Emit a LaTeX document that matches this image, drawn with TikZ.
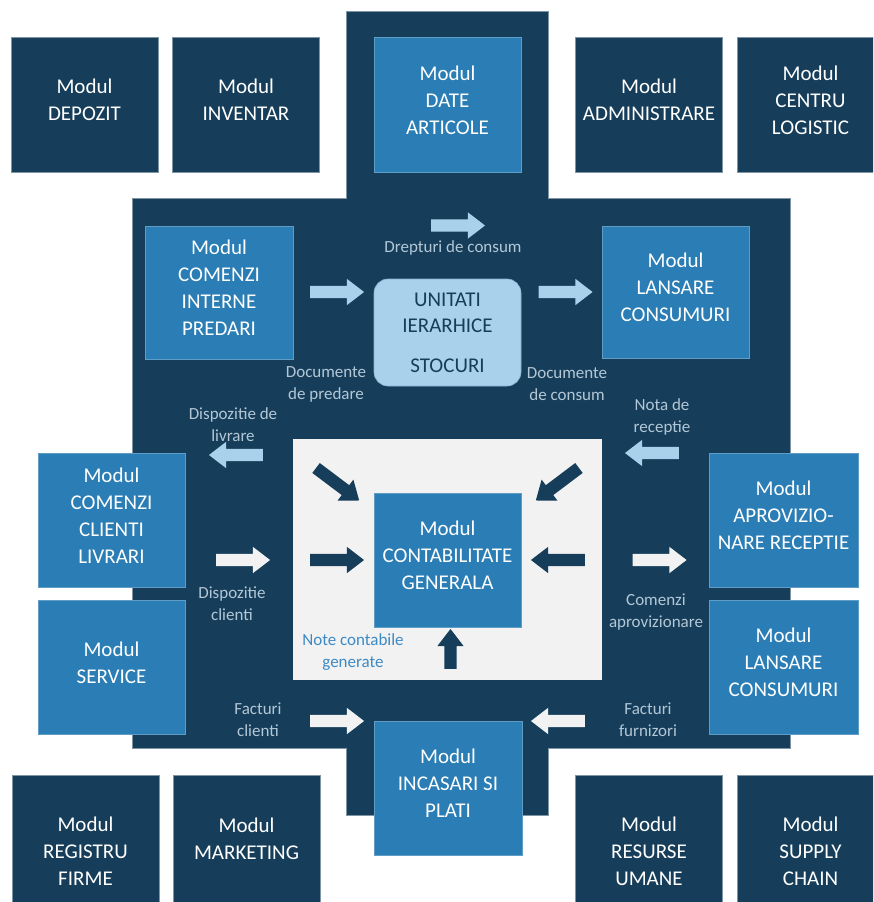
\documentclass[tikz,border=0pt]{standalone}
\usepackage{fontspec}
\setmainfont{Carlito}
\usepackage{tikz}
\usetikzlibrary{shapes.arrows}

\definecolor{navy}{HTML}{163E5A}
\definecolor{midblue}{HTML}{2A7DB5}
\definecolor{paleblue}{HTML}{A9D1EB}
\definecolor{lightgray}{HTML}{F2F2F2}
\definecolor{labelgray}{HTML}{B3C7D6}
\definecolor{noteblue}{HTML}{3D8AC4}

\tikzset{
	modul/.style={rectangle, fill=midblue, draw=midblue!75!white, line width=0.6pt, text=white, align=center, inner sep=0pt, minimum width=147pt, minimum height=134pt, text depth=9pt, font=\fontsize{21}{27}\selectfont},
	extmodul/.style={modul, fill=navy, draw=navy!55!white},
	lbl/.style={text=labelgray, align=center, inner sep=0pt, font=\fontsize{17}{22}\selectfont},
	blockarrow/.style={single arrow, draw=none, inner sep=6pt, minimum height=54pt, single arrow head extend=7pt, single arrow tip angle=75},
}

\begin{document}
\begin{tikzpicture}[x=1pt,y=-1pt]
	\useasboundingbox (0,0) rectangle (873,902);
	\clip (0,0) rectangle (873,902);
	% Core Cross %
	\filldraw [fill=navy, draw=navy!55!white, line width=0.6pt] (346,11) -- (548,11) -- (548,198) -- (790,198) -- (790,748) -- (548,748) -- (548,815) -- (346,815) -- (346,748) -- (132,748) -- (132,198) -- (346,198) -- cycle;
	% Accounting Zone %
	\fill [lightgray] (293,439) rectangle (602,680);
	% Top Row %
	\node (depozit) [extmodul, minimum height=135pt] at (84.5,104.5) {Modul\\DEPOZIT};
	\node (inventar) [extmodul, minimum height=135pt] at (246,104.5) {Modul\\INVENTAR};
	\node (articole) [modul, minimum height=135pt] at (447.5,104.5) {Modul\\DATE\\ARTICOLE};
	\node (administrare) [extmodul, minimum height=135pt] at (649,104.5) {Modul\\ADMINISTRARE};
	\node (logistic) [extmodul, minimum height=135pt] at (810.5,104.5) {Modul\\CENTRU\\LOGISTIC};
	% Stock Flow %
	\node (interne) [modul, minimum width=148pt, minimum height=133pt] at (219,292.5) {Modul\\COMENZI\\INTERNE\\PREDARI};
	\node (lansaresus) [modul, minimum height=132pt] at (675.5,292) {Modul\\LANSARE\\CONSUMURI};
	\node (stocuri) [rectangle, rounded corners=14pt, fill=paleblue, draw=paleblue!80!navy, line width=0.6pt, text=navy, align=center, minimum width=147pt, minimum height=107pt, inner sep=0pt, font=\fontsize{21}{26}\selectfont] at (447.5,332.5) {UNITATI\\IERARHICE\\[14pt]STOCURI};
	\node (drepturi) [blockarrow, fill=paleblue] at (454,225.5) {};
	\node (predarearrow) [blockarrow, fill=paleblue] at (333,292) {};
	\node (consumarrow) [blockarrow, fill=paleblue] at (561.5,292) {};
	\node (drepturilbl) [lbl] at (453,248) {Drepturi de consum};
	\node (predarelbl) [lbl] at (326,384) {Documente\\de predare};
	\node (consumlbl) [lbl] at (567,384) {Documente\\de consum};
	\node (livrarelbl) [lbl] at (233,425) {Dispozitie de\\livrare};
	\node (receptielbl) [lbl] at (662,417) {Nota de\\receptie};
	\node (livrarearrow) [blockarrow, fill=paleblue, rotate=180] at (240,455) {};
	\node (receptiearrow) [blockarrow, fill=paleblue, rotate=180] at (656,453) {};
	% Side Columns %
	\node (clienti) [modul] at (111.5,520) {Modul\\COMENZI\\CLIENTI\\LIVRARI};
	\node (service) [modul] at (111.5,667) {Modul\\SERVICE};
	\node (aprovizionare) [modul, minimum width=149pt] at (783.5,520) {Modul\\APROVIZIO-\\NARE RECEPTIE};
	\node (lansarejos) [modul, minimum width=149pt] at (783.5,667) {Modul\\LANSARE\\CONSUMURI};
	% Accounting %
	\node (contabilitate) [modul] at (447.5,560) {Modul\\CONTABILITATE\\GENERALA};
	\node (diagstanga) [blockarrow, fill=navy, rotate=-37] at (334.4,481.8) {};
	\node (diagdreapta) [blockarrow, fill=navy, rotate=-143] at (560.6,481.8) {};
	\node (contabstanga) [blockarrow, fill=navy] at (333,560) {};
	\node (contabdreapta) [blockarrow, fill=navy, rotate=180] at (562,560) {};
	\node (notearrow) [blockarrow, fill=navy, minimum height=40pt, rotate=90] at (450.5,653) {};
	\node (notelbl) [lbl, text=noteblue] at (353,652) {Note contabile\\generate};
	% Sales and Purchases %
	\node (dispozitiearrow) [blockarrow, fill=lightgray] at (239,560) {};
	\node (comenziarrow) [blockarrow, fill=lightgray] at (655.5,560) {};
	\node (dispozitielbl) [lbl] at (232,604) {Dispozitie\\clienti};
	\node (comenzilbl) [lbl] at (656,612) {Comenzi\\aprovizionare};
	\node (facturiclarrow) [blockarrow, fill=lightgray] at (333,721) {};
	\node (facturifzarrow) [blockarrow, fill=lightgray, rotate=180] at (562,721) {};
	\node (facturicllbl) [lbl] at (258,720) {Facturi\\clienti};
	\node (facturifzlbl) [lbl] at (648,720) {Facturi\\furnizori};
	\node (incasari) [modul, minimum width=148pt] at (448,788) {Modul\\INCASARI SI\\PLATI};
	% Bottom Row %
	\node (registru) [extmodul, minimum height=161pt] at (85.5,855.5) {Modul\\REGISTRU\\FIRME};
	\node (marketing) [extmodul, minimum height=161pt, text depth=33pt] at (246.5,855.5) {Modul\\MARKETING};
	\node (resurse) [extmodul, minimum height=161pt] at (649,855.5) {Modul\\RESURSE\\UMANE};
	\node (supply) [extmodul, minimum height=161pt] at (810.5,855.5) {Modul\\SUPPLY\\CHAIN};
\end{tikzpicture}
\end{document}
